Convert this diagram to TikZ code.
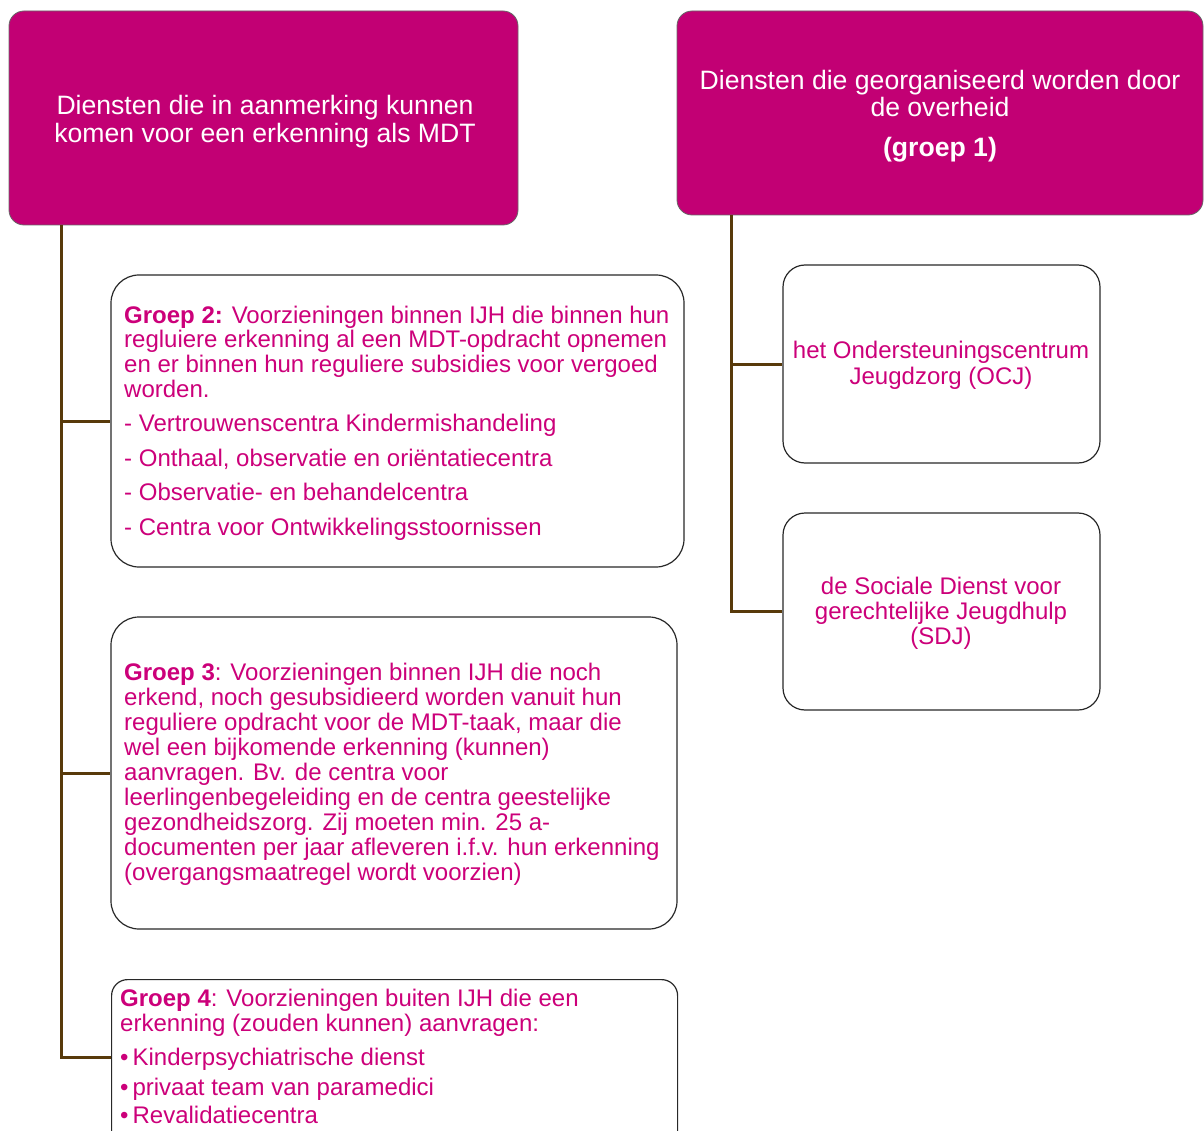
\documentclass[tikz,border=0pt]{standalone}
\usepackage{fontspec}
\setmainfont{Liberation Sans}
\definecolor{mag}{RGB}{194,0,116}
\definecolor{magtext}{RGB}{204,0,122}
\definecolor{conn}{RGB}{88,58,10}
\definecolor{bord}{RGB}{40,40,40}
\begin{document}
\begin{tikzpicture}[x=1pt,y=-1pt,
  headbox/.style={draw=bord!70,line width=0.8pt,fill=mag,rounded corners=15pt},
  subbox/.style={draw=bord,line width=1.2pt,fill=white,rounded corners=28pt},
  conline/.style={draw=conn,line width=3pt},
  bodytext/.style={inner sep=0pt,text=magtext,font=\fontsize{24}{24.8}\selectfont},
  headtext/.style={inner sep=0pt,text=white,font=\fontsize{26.6}{28.5}\selectfont,align=center}]
\useasboundingbox (0,0) rectangle (1204,1131);
\clip (0,0) rectangle (1204,1131);
% header boxes
\path[headbox] (9,11) rectangle (518,225);
\node[inner sep=0pt,minimum width=509pt,minimum height=214pt] (h1) at (263.5,118) {};
\path[headbox] (677,11) rectangle (1203,215);
\node[inner sep=0pt,minimum width=526pt,minimum height=204pt] (h2) at (940,113) {};
% sub boxes
\node[subbox,minimum width=573pt,minimum height=292pt] (g2) at (397.5,421) {};
\node[subbox,minimum width=566pt,minimum height=312pt] (g3) at (394,773) {};
\node[subbox,minimum width=566pt,minimum height=200pt,rounded corners=16pt,anchor=north west] (g4) at (111,979) {};
\node[subbox,minimum width=317pt,minimum height=198pt,rounded corners=22pt] (ocj) at (941.5,364) {};
\node[subbox,minimum width=317pt,minimum height=197pt,rounded corners=22pt] (sdj) at (941.5,611.5) {};
% connectors
\coordinate (lt) at (61,0);
\coordinate (rt) at (731,0);
\draw[conline] (h1.south -| lt) |- (g2.west);
\draw[conline] (h1.south -| lt) |- (g3.west);
\draw[conline] (h1.south -| lt) |- (g4.west |- 0,1057);
\draw[conline] (h2.south -| rt) |- (ocj.west);
\draw[conline] (h2.south -| rt) |- (sdj.west);
% header texts
\node[headtext,anchor=base] (t1) at (265,143) {Diensten die in aanmerking kunnen\\komen voor een erkenning als MDT};
\node[headtext,anchor=base,font=\fontsize{26.6}{27}\selectfont] (t2) at (940,157) {Diensten die georganiseerd worden door\\de overheid\\[13pt]\textbf{(groep 1)}};
% body texts
\node[bodytext,anchor=base west,align=left] (t3) at (124,535) {\textbf{Groep 2:} Voorzieningen binnen IJH die binnen hun\\regluiere erkenning al een MDT-opdracht opnemen\\en er binnen hun reguliere subsidies voor vergoed\\worden.\\[9.6pt]- Vertrouwenscentra Kindermishandeling\\[9.6pt]- Onthaal, observatie en oriëntatiecentra\\[9.6pt]- Observatie- en behandelcentra\\[9.6pt]- Centra voor Ontwikkelingsstoornissen};
\node[bodytext,anchor=base west,align=left,font=\fontsize{24}{24.9}\selectfont] (t4) at (124,880) {\textbf{Groep 3}: Voorzieningen binnen IJH die noch\\erkend, noch gesubsidieerd worden vanuit hun\\reguliere opdracht voor de MDT-taak, maar die\\wel een bijkomende erkenning (kunnen)\\aanvragen. Bv. de centra voor\\leerlingenbegeleiding en de centra geestelijke\\gezondheidszorg. Zij moeten min. 25 a-\\documenten per jaar afleveren i.f.v. hun erkenning\\(overgangsmaatregel wordt voorzien)};
\node[bodytext,anchor=base west,align=left,font=\fontsize{24}{25}\selectfont] (t5) at (120,1123) {\textbf{Groep 4}: Voorzieningen buiten IJH die een\\erkenning (zouden kunnen) aanvragen:\\[9pt]\textbullet\,Kinderpsychiatrische dienst\\[5pt]\textbullet\,privaat team van paramedici\\[3pt]\textbullet\,Revalidatiecentra};
\node[bodytext,anchor=base,align=center,font=\fontsize{24}{25}\selectfont] (t6) at (941,384) {het Ondersteuningscentrum\\Jeugdzorg (OCJ)};
\node[bodytext,anchor=base,align=center,font=\fontsize{24}{25}\selectfont] (t7) at (941,644) {de Sociale Dienst voor\\gerechtelijke Jeugdhulp\\(SDJ)};
\end{tikzpicture}
\end{document}
